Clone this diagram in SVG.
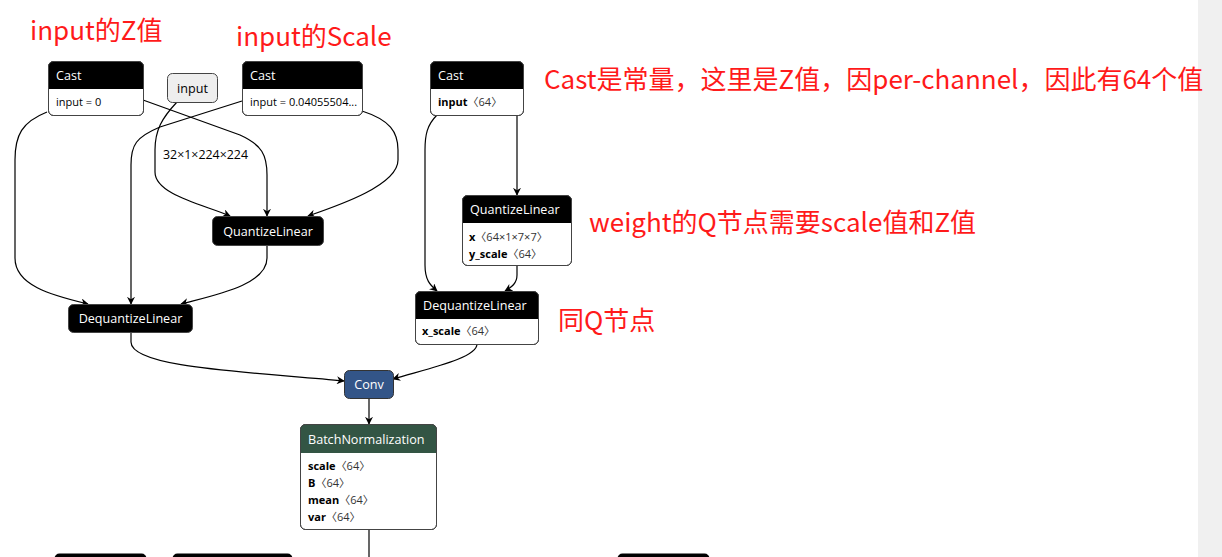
<svg xmlns="http://www.w3.org/2000/svg" width="1222" height="557" viewBox="0 0 1222 557">
<defs>
<marker id="arr" viewBox="0 0 10 10" refX="9" refY="5" markerWidth="8" markerHeight="8" markerUnits="userSpaceOnUse" orient="auto">
<path d="M0,0 L10,5 L0,10 L3,5 Z" fill="#000"/>
</marker>
<style>
.e{fill:none;stroke:#000;stroke-width:1.2;marker-end:url(#arr)}
.el{fill:none;stroke:#000;stroke-width:1.2}
.box{fill:#fff;stroke:#444;stroke-width:1}
.bd{fill:none;stroke:#444;stroke-width:1}
.hd{fill:#000}
.ht{font-family:"Open Sans","DejaVu Sans",sans-serif;font-size:12.6px;fill:#fff}
.at{font-family:"Open Sans","Noto Sans CJK SC",sans-serif;font-size:11px;fill:#000}
.ab{font-weight:bold}
.av{fill:#333}
.lb{font-family:"Open Sans",sans-serif;font-size:12.4px;fill:#000}
.red{font-family:"Noto Sans CJK SC","Noto Sans",sans-serif;font-size:26px;fill:#ff1a1a}
</style>
</defs>
<rect x="0" y="0" width="1222" height="557" fill="#fff"/>
<rect x="1198" y="0" width="24" height="557" fill="#f0f0f0"/>

<g id="connectors">
<path class="e" d="M47,112 C22,122 15,135 15,160 L15,258 C15,285 50,295 88,304"/>
<path class="e" d="M143,100 L240,135 C262,145 267,155 267,175 L267,216"/>
<path class="e" d="M177,102 C162,118 155,130 155,150 L155,172 C155,195 205,205 230,216"/>
<path class="e" d="M242,101 L160,127 C136,137 131,145 131,165 L131,304"/>
<path class="e" d="M362,111 C390,120 398,132 398,150 L398,160 C398,185 340,205 308,216"/>
<path class="e" d="M267,245 L267,258 C267,285 215,295 181,304"/>
<path class="e" d="M131,332 L131,342 C131,368 250,372 344,381"/>
<path class="e" d="M517,115 C517,125 517,130 517,145 L517,195"/>
<path class="e" d="M437,115 C427,125 425,135 425,150 L425,265 C425,280 430,285 437,291"/>
<path class="e" d="M517,265 L517,275 C517,283 512,287 505,291"/>
<path class="e" d="M477,344 C477,358 430,368 393,379"/>
<path class="e" d="M369,398 L369,424"/>
<path class="el" d="M369,529 L369,557"/>
<text class="lb" x="163" y="159">32×1×224×224</text>
</g>

<g id="cast_z">
<rect class="box" x="48.5" y="61.5" width="95" height="54" rx="5"/>
<path class="hd" d="M48.5,89 V66.5 Q48.5,61.5 53.5,61.5 H138.5 Q143.5,61.5 143.5,66.5 V89 Z"/>
<rect class="bd" x="48.5" y="61.5" width="95" height="54" rx="5"/>
<text class="ht" x="56" y="80">Cast</text>
<text class="at" x="56" y="106">input = 0</text>
</g>

<g id="input">
<rect x="167.5" y="73.5" width="50" height="29" rx="5" fill="#eee" stroke="#444"/>
<text class="ht" x="192.5" y="93" text-anchor="middle" style="fill:#000">input</text>
</g>

<g id="cast_scale">
<rect class="box" x="242.5" y="61.5" width="120" height="54" rx="5"/>
<path class="hd" d="M242.5,89 V66.5 Q242.5,61.5 247.5,61.5 H357.5 Q362.5,61.5 362.5,66.5 V89 Z"/>
<rect class="bd" x="242.5" y="61.5" width="120" height="54" rx="5"/>
<text class="ht" x="250" y="80">Cast</text>
<text class="at" x="250" y="106">input = 0.04055504...</text>
</g>

<g id="cast_w">
<rect class="box" x="430.5" y="61.5" width="93" height="54" rx="5"/>
<path class="hd" d="M430.5,89 V66.5 Q430.5,61.5 435.5,61.5 H518.5 Q523.5,61.5 523.5,66.5 V89 Z"/>
<rect class="bd" x="430.5" y="61.5" width="93" height="54" rx="5"/>
<text class="ht" x="438" y="80">Cast</text>
<text class="at" x="438" y="106"><tspan class="ab">input</tspan><tspan class="av">〈64〉</tspan></text>
</g>

<g id="quantize_in">
<rect x="212.5" y="216.5" width="111" height="29" rx="5" fill="#000" stroke="#444"/>
<text class="ht" x="268" y="235.5" text-anchor="middle">QuantizeLinear</text>
</g>

<g id="dequantize_in">
<rect x="68.5" y="304.5" width="124" height="28" rx="5" fill="#000" stroke="#444"/>
<text class="ht" x="130.5" y="323" text-anchor="middle">DequantizeLinear</text>
</g>

<g id="quantize_w">
<rect class="box" x="462.5" y="195.5" width="109" height="70" rx="5"/>
<path class="hd" d="M462.5,223 V200.5 Q462.5,195.5 467.5,195.5 H566.5 Q571.5,195.5 571.5,200.5 V223 Z"/>
<rect class="bd" x="462.5" y="195.5" width="109" height="70" rx="5"/>
<text class="ht" x="470" y="214">QuantizeLinear</text>
<text class="at" x="469" y="241"><tspan class="ab">x</tspan><tspan class="av">〈64×1×7×7〉</tspan></text>
<text class="at" x="469" y="258"><tspan class="ab">y_scale</tspan><tspan class="av">〈64〉</tspan></text>
</g>

<g id="dequantize_w">
<rect class="box" x="415.5" y="291.5" width="123" height="53" rx="5"/>
<path class="hd" d="M415.5,319 V296.5 Q415.5,291.5 420.5,291.5 H533.5 Q538.5,291.5 538.5,296.5 V319 Z"/>
<rect class="bd" x="415.5" y="291.5" width="123" height="53" rx="5"/>
<text class="ht" x="423" y="310">DequantizeLinear</text>
<text class="at" x="422" y="335"><tspan class="ab">x_scale</tspan><tspan class="av">〈64〉</tspan></text>
</g>

<g id="conv">
<rect x="344.5" y="370.5" width="49" height="28" rx="5" fill="#335588" stroke="#333"/>
<text class="ht" x="369" y="389" text-anchor="middle">Conv</text>
</g>

<g id="batchnorm">
<rect class="box" x="300.5" y="424.5" width="136" height="105" rx="5"/>
<path d="M300.5,453 V429.5 Q300.5,424.5 305.5,424.5 H431.5 Q436.5,424.5 436.5,429.5 V453 Z" fill="#335544"/>
<rect class="bd" x="300.5" y="424.5" width="136" height="105" rx="5"/>
<text class="ht" x="308" y="443.5">BatchNormalization</text>
<text class="at" x="308" y="470"><tspan class="ab">scale</tspan><tspan class="av">〈64〉</tspan></text>
<text class="at" x="308" y="487"><tspan class="ab">B</tspan><tspan class="av">〈64〉</tspan></text>
<text class="at" x="308" y="504"><tspan class="ab">mean</tspan><tspan class="av">〈64〉</tspan></text>
<text class="at" x="308" y="521"><tspan class="ab">var</tspan><tspan class="av">〈64〉</tspan></text>
</g>

<g id="bottom_nodes">
<rect x="54.5" y="553.5" width="92" height="20" rx="5" fill="#000"/>
<rect x="172.5" y="553.5" width="120" height="20" rx="5" fill="#000"/>
<rect x="617.5" y="553.5" width="92" height="20" rx="5" fill="#000"/>
</g>

<g id="annotations">
<text class="red" x="30" y="40">input的Z值</text>
<text class="red" x="236" y="46">input的Scale</text>
<text class="red" x="544" y="89">Cast是常量，这里是Z值，因per-channel，因此有64个值</text>
<text class="red" x="589" y="232">weight的Q节点需要scale值和Z值</text>
<text class="red" x="558" y="330">同Q节点</text>
</g>
</svg>
